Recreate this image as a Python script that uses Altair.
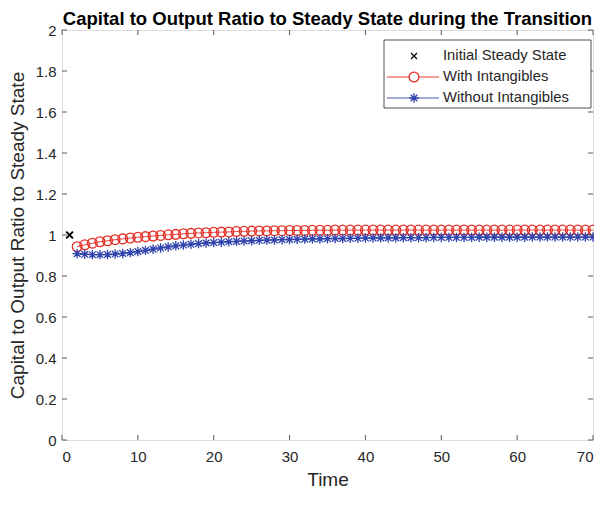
import altair as alt
import pandas as pd

# ---------------- data ----------------
time = list(range(2, 71))
with_intangibles = [
    0.943, 0.952, 0.960, 0.967, 0.972, 0.977, 0.981, 0.985, 0.989, 0.992,
    0.995, 0.998, 1.001, 1.003, 1.006, 1.008, 1.010, 1.011, 1.013, 1.014,
    1.015, 1.017, 1.018, 1.019, 1.020, 1.020, 1.021, 1.021, 1.022, 1.022,
    1.022, 1.023, 1.023, 1.023, 1.024, 1.024, 1.024, 1.024, 1.024, 1.024,
    1.024, 1.024, 1.024, 1.024, 1.024, 1.024, 1.024, 1.024, 1.024, 1.024,
    1.024, 1.024, 1.024, 1.024, 1.024, 1.024, 1.024, 1.024, 1.024, 1.024,
    1.024, 1.024, 1.024, 1.024, 1.024, 1.024, 1.024, 1.024, 1.024,
]
without_intangibles = [
    0.909, 0.906, 0.904, 0.904, 0.905, 0.907, 0.910, 0.914, 0.919, 0.925,
    0.931, 0.937, 0.942, 0.947, 0.951, 0.955, 0.958, 0.961, 0.963, 0.965,
    0.967, 0.969, 0.971, 0.972, 0.974, 0.975, 0.976, 0.977, 0.978, 0.979,
    0.980, 0.981, 0.981, 0.982, 0.983, 0.983, 0.984, 0.984, 0.985, 0.985,
    0.986, 0.986, 0.986, 0.987, 0.987, 0.987, 0.987, 0.988, 0.988, 0.988,
    0.988, 0.988, 0.988, 0.989, 0.989, 0.989, 0.989, 0.989, 0.989, 0.989,
    0.990, 0.990, 0.990, 0.990, 0.990, 0.990, 0.990, 0.990, 0.990,
]
initial_time = [1]
initial_value = [1.0]

x_ticks = [0, 10, 20, 30, 40, 50, 60, 70]
y_ticks = [0, 0.2, 0.4, 0.6, 0.8, 1.0, 1.2, 1.4, 1.6, 1.8, 2.0]
legend_labels = ["Initial Steady State", "With Intangibles", "Without Intangibles"]

# ---------------- styles ----------------
PAD_L, PAD_T = 54, 22
W, H = 531, 410
FONT = "Liberation Sans"
RED = "#e62e24"
BLUE = "#2f43ad"
TXT = "#262626"
XSHAPE = "M-1,-1L1,1M-1,1L1,-1"
STAR = "M-1,0L1,0M0,-1L0,1M-0.7,-0.7L0.7,0.7M-0.7,0.7L0.7,-0.7"

df = pd.DataFrame({"t": time, "w": with_intangibles, "wo": without_intangibles})
df0 = pd.DataFrame({"t": initial_time, "v": initial_value})
dxt = pd.DataFrame({"v": x_ticks})
dyt = pd.DataFrame({"v": y_ticks})
one = pd.DataFrame({"a": [0]})

xscale = alt.Scale(domain=[0, 70], nice=False, zero=False)
yscale = alt.Scale(domain=[0, 2], nice=False, zero=False)

xaxis = alt.Axis(values=x_ticks, title="Time", ticks=False, domain=False, grid=False,
                 labelFontSize=15, labelPadding=9, titleFontSize=19, titlePadding=6,
                 titleFontWeight="normal", labelColor=TXT, titleColor=TXT,
                 labelFont=FONT, titleFont=FONT)
yaxis = alt.Axis(values=y_ticks, title="Capital to Output Ratio to Steady State", format="~g",
                 ticks=False, domain=False, grid=False,
                 labelFontSize=15, labelPadding=6, titleFontSize=19, titlePadding=8,
                 titleFontWeight="normal", labelColor=TXT, titleColor=TXT,
                 labelFont=FONT, titleFont=FONT)

X = alt.X("t:Q", scale=xscale, axis=xaxis)

red_line = alt.Chart(df).mark_line(color=RED, strokeWidth=0.9).encode(
    x=X, y=alt.Y("w:Q", scale=yscale, axis=yaxis))
red_pts = alt.Chart(df).mark_point(shape="circle", filled=False, color=RED, size=95,
                                   strokeWidth=1.3, opacity=1).encode(
    x=alt.X("t:Q", scale=xscale), y=alt.Y("w:Q", scale=yscale))
blue_line = alt.Chart(df).mark_line(color=BLUE, strokeWidth=0.9).encode(
    x=alt.X("t:Q", scale=xscale), y=alt.Y("wo:Q", scale=yscale))
blue_pts = alt.Chart(df).mark_point(shape=STAR, filled=False, color=BLUE, size=90,
                                    strokeWidth=1.3, opacity=1).encode(
    x=alt.X("t:Q", scale=xscale), y=alt.Y("wo:Q", scale=yscale))
init_pt = alt.Chart(df0).mark_point(shape=XSHAPE, filled=False, color="black", size=45,
                                    strokeWidth=2, opacity=1).encode(
    x=alt.X("t:Q", scale=xscale), y=alt.Y("v:Q", scale=yscale))

TL = 5
tick_color = "#5a5a5a"
xt_bot = alt.Chart(dxt).mark_rule(color=tick_color, strokeWidth=1).encode(
    x=alt.X("v:Q", scale=xscale), y=alt.value(H), y2=alt.value(H - TL))
xt_top = alt.Chart(dxt).mark_rule(color=tick_color, strokeWidth=1).encode(
    x=alt.X("v:Q", scale=xscale), y=alt.value(0), y2=alt.value(TL))
yt_left = alt.Chart(dyt).mark_rule(color=tick_color, strokeWidth=1).encode(
    y=alt.Y("v:Q", scale=yscale), x=alt.value(0), x2=alt.value(TL))
yt_right = alt.Chart(dyt).mark_rule(color=tick_color, strokeWidth=1).encode(
    y=alt.Y("v:Q", scale=yscale), x=alt.value(W), x2=alt.value(W - TL))

# ---------------- legend (pixel placement) ----------------
LX1 = W - 2
LX0 = LX1 - 207
LY0, LY1 = 10, 78
rows = [26, 47, 68]
seg0, seg1, mk, tx = LX0 + 3, LX0 + 55, LX0 + 30, LX0 + 59
leg_box = alt.Chart(one).mark_rect(fill="white", stroke=TXT, strokeWidth=0.8).encode(
    x=alt.value(LX0), x2=alt.value(LX1), y=alt.value(LY0), y2=alt.value(LY1))
leg_layers = [leg_box]
leg_layers.append(alt.Chart(one).mark_point(shape=XSHAPE, filled=False, color="black",
                                            size=36, strokeWidth=1.2, opacity=1).encode(
    x=alt.value(mk), y=alt.value(rows[0])))
leg_layers.append(alt.Chart(one).mark_rule(color=RED, strokeWidth=0.9).encode(
    x=alt.value(seg0), x2=alt.value(seg1), y=alt.value(rows[1])))
leg_layers.append(alt.Chart(one).mark_point(shape="circle", filled=True, fill="white",
                                            stroke=RED, size=95, strokeWidth=1.3,
                                            opacity=1).encode(
    x=alt.value(mk), y=alt.value(rows[1])))
leg_layers.append(alt.Chart(one).mark_rule(color=BLUE, strokeWidth=0.9).encode(
    x=alt.value(seg0), x2=alt.value(seg1), y=alt.value(rows[2])))
leg_layers.append(alt.Chart(one).mark_point(shape=STAR, filled=False, color=BLUE,
                                            size=90, strokeWidth=1.3, opacity=1).encode(
    x=alt.value(mk), y=alt.value(rows[2])))
for lab, ry in zip(legend_labels, rows):
    leg_layers.append(alt.Chart(one).mark_text(align="left", baseline="middle", fontSize=14.8,
                                               font=FONT, color=TXT).encode(
        x=alt.value(tx), y=alt.value(ry), text=alt.value(lab)))

chart = alt.layer(
    red_line, blue_line, red_pts, blue_pts, init_pt,
    xt_bot, xt_top, yt_left, yt_right,
    *leg_layers
).properties(
    width=W, height=H,
    title=alt.Title("Capital to Output Ratio to Steady State during the Transition",
                    fontSize=18.5, fontWeight="bold", font=FONT, color="black",
                    anchor="middle", offset=2, dy=7),
    autosize=alt.AutoSizeParams(type="none"),
    padding={"left": PAD_L, "top": PAD_T, "right": 1, "bottom": 52},
).configure_view(stroke="#6a6a6a", strokeWidth=1).configure(background="white")

chart.save("out.html", embed_options={"renderer": "svg", "actions": False})
